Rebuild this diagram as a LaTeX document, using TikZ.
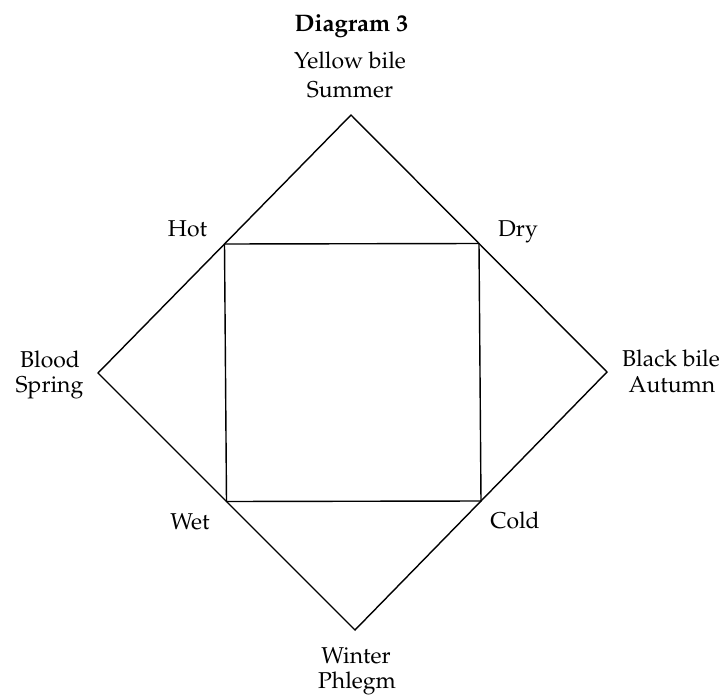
\documentclass[tikz,border=0pt]{standalone}
\usepackage[T1]{fontenc}
\usepackage{mathpazo}
\usetikzlibrary{calc}
\tikzset{
  humour/.style={font=\fontsize{16.3}{20}\selectfont, inner sep=0pt, anchor=base},
  rim/.style={line width=1pt, line join=miter},
}

\begin{document}
\begin{tikzpicture}[x=0.025cm, y=-0.025cm]
  \useasboundingbox (0,0) rectangle (724,697);

  % outer diamond
  \coordinate (top) at (351,115);
  \coordinate (rgt) at (607,372);
  \coordinate (bot) at (355,630);
  \coordinate (lft) at (98,373);
  % inner square on the midpoints
  \coordinate (hot)  at ($(lft)!0.5!(top)$);
  \coordinate (dry)  at ($(top)!0.5!(rgt)$);
  \coordinate (cold) at ($(rgt)!0.5!(bot)$);
  \coordinate (wet)  at ($(bot)!0.5!(lft)$);

  \draw[rim] (top) -- (rgt) -- (bot) -- (lft) -- cycle;
  \draw[rim] (hot) -- (dry) -- (cold) -- (wet) -- cycle;

  \node[humour, font=\fontsize{17}{20}\selectfont\bfseries] (title) at (351.5,31) {Diagram 3};

  \node[humour] (yellowbile) at (350,68)  {Yellow bile};
  \node[humour] (summer)     at (350,97)  {Summer};
  \node[humour] (hotlbl)     at (187.5,236) {Hot};
  \node[humour] (drylbl)     at (518,236) {Dry};
  \node[humour] (blood)      at (50,367)  {Blood};
  \node[humour] (spring)     at (49.5,392) {Spring};
  \node[humour] (blackbile)  at (671,366) {Black bile};
  \node[humour] (autumn)     at (672,392) {Autumn};
  \node[humour] (wetlbl)     at (190,529) {Wet};
  \node[humour] (coldlbl)    at (515,528) {Cold};
  \node[humour] (winter)     at (356,663) {Winter};
  \node[humour] (phlegm)     at (357,688) {Phlegm};
\end{tikzpicture}
\end{document}
